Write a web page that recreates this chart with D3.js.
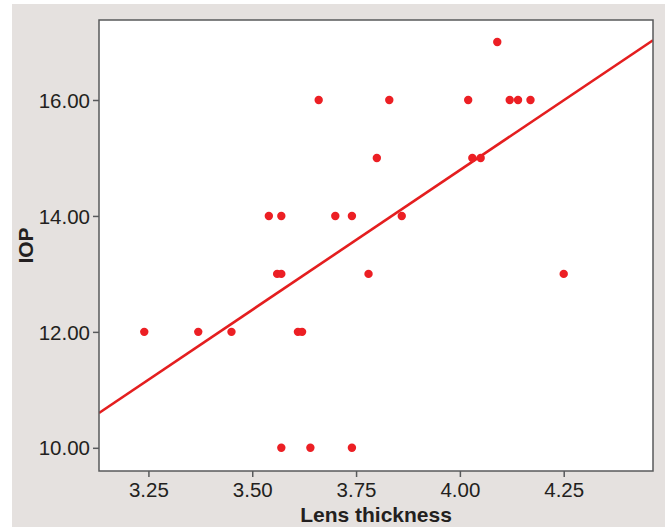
<!DOCTYPE html>
<html>
<head>
<meta charset="utf-8">
<script src="https://cdn.jsdelivr.net/npm/d3@7"></script>
<style>
  html, body { margin: 0; padding: 0; background: #ffffff; }
  svg { display: block; }
  text { font-family: "Liberation Sans", Arial, sans-serif; fill: #231f20; }
</style>
</head>
<body>
<svg id="chart" width="667" height="527"></svg>
<script>
// Lens thickness (mm) and intraocular pressure (mmHg) per eye
const lensThickness = [3.24, 3.37, 3.45, 3.54, 3.57, 3.56, 3.57, 3.57, 3.61, 3.62,
                       3.64, 3.66, 3.70, 3.74, 3.74, 3.78, 3.80, 3.83, 3.86, 4.02,
                       4.03, 4.05, 4.09, 4.12, 4.14, 4.17, 4.25];
const iop =           [12, 12, 12, 14, 14, 13, 13, 10, 12, 12,
                       10, 16, 14, 14, 10, 13, 15, 16, 14, 16,
                       15, 15, 17, 16, 16, 16, 13];

// Linear fit line: IOP = intercept + slope * thickness
const fitIntercept = -4.49;
const fitSlope = 4.82;

const xTicks = [3.25, 3.50, 3.75, 4.00, 4.25];
const yTicks = [10, 12, 14, 16];
const xDomain = [3.131, 4.465];
const yDomain = [9.60, 17.38];

const svg = d3.select("#chart");
const W = 667, H = 527;
const plot = { left: 99, right: 653, top: 20, bottom: 471 };

// panel background
svg.append("rect")
  .attr("x", 12).attr("y", 4)
  .attr("width", W - 12 - 2).attr("height", H - 4)
  .attr("fill", "#e5e1df");

const x = d3.scaleLinear().domain(xDomain).range([plot.left, plot.right]);
const y = d3.scaleLinear().domain(yDomain).range([plot.bottom, plot.top]);

// plotting area
svg.append("rect")
  .attr("x", plot.left).attr("y", plot.top)
  .attr("width", plot.right - plot.left).attr("height", plot.bottom - plot.top)
  .attr("fill", "#ffffff");

svg.append("clipPath").attr("id", "plotClip")
  .append("rect")
  .attr("x", plot.left).attr("y", plot.top)
  .attr("width", plot.right - plot.left).attr("height", plot.bottom - plot.top);

// regression line
const fitLine = d3.line().x(d => x(d)).y(d => y(fitIntercept + fitSlope * d));
svg.append("path")
  .datum(xDomain)
  .attr("d", fitLine)
  .attr("clip-path", "url(#plotClip)")
  .attr("fill", "none")
  .attr("stroke", "#e41e1f")
  .attr("stroke-width", 2.6);

// observations
svg.append("g")
  .selectAll("circle")
  .data(lensThickness.map((t, i) => ({ t, p: iop[i] })))
  .join("circle")
  .attr("cx", d => x(d.t))
  .attr("cy", d => y(d.p))
  .attr("r", 4.2)
  .attr("fill", "#ec1f24");

// frame
svg.append("rect")
  .attr("x", plot.left).attr("y", plot.top)
  .attr("width", plot.right - plot.left).attr("height", plot.bottom - plot.top)
  .attr("fill", "none")
  .attr("stroke", "#58595b")
  .attr("stroke-width", 1.5);

// axes
const xAxis = d3.axisBottom(x).tickValues(xTicks).tickFormat(d3.format(".2f"))
  .tickSize(6).tickPadding(5).tickSizeOuter(0);
const yAxis = d3.axisLeft(y).tickValues(yTicks).tickFormat(d3.format(".2f"))
  .tickSize(6).tickPadding(3).tickSizeOuter(0);

const gx = svg.append("g").attr("transform", `translate(0,${plot.bottom})`).call(xAxis);
const gy = svg.append("g").attr("transform", `translate(${plot.left},0)`).call(yAxis);

[gx, gy].forEach(g => {
  g.select(".domain").remove();
  g.selectAll(".tick line").attr("stroke", "#58595b").attr("stroke-width", 1.5);
  g.selectAll(".tick text")
    .attr("font-size", 20.5)
    .attr("fill", "#2b2a2b");
});
gy.selectAll(".tick text").attr("dy", "0.35em");

// axis titles
svg.append("text")
  .attr("x", (plot.left + plot.right) / 2)
  .attr("y", 522)
  .attr("text-anchor", "middle")
  .attr("font-size", 21)
  .attr("font-weight", "bold")
  .text("Lens thickness");

svg.append("text")
  .attr("transform", `translate(33,${(plot.top + plot.bottom) / 2}) rotate(-90)`)
  .attr("text-anchor", "middle")
  .attr("font-size", 21)
  .attr("font-weight", "bold")
  .text("IOP");
</script>
</body>
</html>
